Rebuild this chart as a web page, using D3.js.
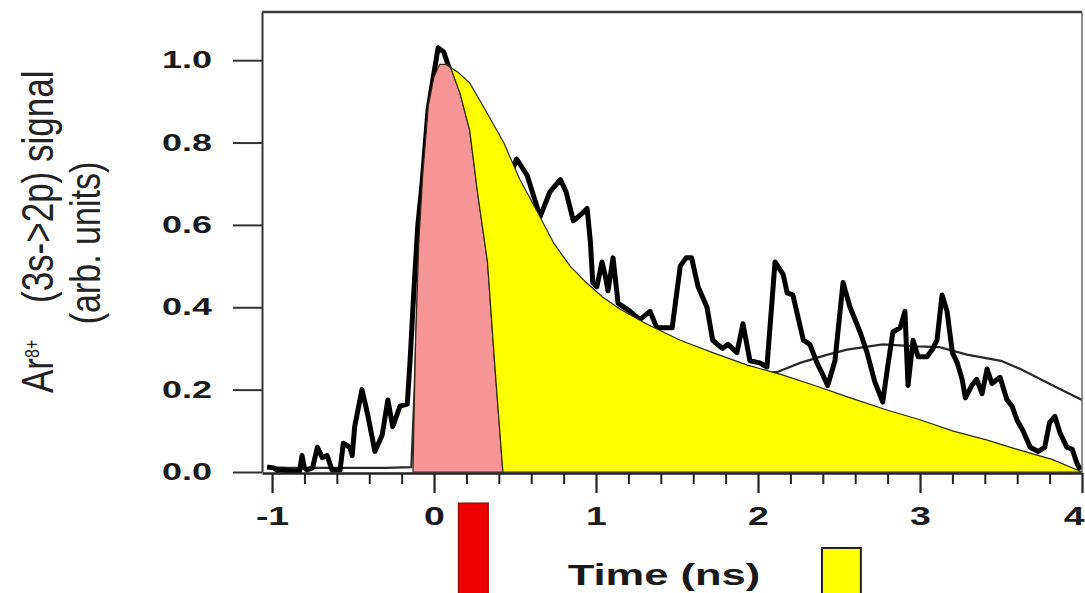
<!DOCTYPE html>
<html>
<head>
<meta charset="utf-8">
<script src="https://cdn.jsdelivr.net/npm/d3@7"></script>
<style>
  body { margin: 0; background: #fff; }
  text { font-family: "Liberation Sans", Arial, Helvetica, sans-serif; }
</style>
</head>
<body>
<svg id="chart" width="1085" height="593"></svg>
<script>
// Ar8+ (3s->2p) signal vs time, measured trace with model and shaded intervals

// measured signal (black trace)
var timeNs = [-1.03, -0.99, -0.97, -0.93, -0.87, -0.83, -0.815, -0.80, -0.785, -0.75,
	-0.72, -0.69, -0.66, -0.63, -0.58, -0.56, -0.52, -0.505, -0.49, -0.445,
	-0.41, -0.365, -0.32, -0.285, -0.255, -0.21, -0.165, -0.148, -0.123, -0.10,
	-0.074, -0.037, 0.0, 0.025, 0.06, 0.12, 0.2, 0.3, 0.4, 0.47,
	0.51, 0.575, 0.655, 0.715, 0.78, 0.815, 0.86, 0.92, 0.945, 0.965,
	0.98, 1.005, 1.037, 1.055, 1.074, 1.105, 1.136, 1.21, 1.27, 1.333,
	1.376, 1.47, 1.52, 1.556, 1.59, 1.63, 1.685, 1.72, 1.78, 1.815,
	1.87, 1.907, 1.95, 2.01, 2.055, 2.105, 2.155, 2.18, 2.215, 2.28,
	2.32, 2.364, 2.395, 2.43, 2.475, 2.525, 2.568, 2.63, 2.673, 2.72,
	2.77, 2.80, 2.833, 2.877, 2.907, 2.926, 2.957, 2.988, 3.043, 3.08,
	3.105, 3.136, 3.167, 3.20, 3.23, 3.26, 3.28, 3.32, 3.35, 3.383,
	3.414, 3.444, 3.494, 3.537, 3.568, 3.60, 3.636, 3.68, 3.73, 3.77,
	3.80, 3.833, 3.864, 3.907, 3.94, 3.97, 3.99]
var signal = [0.012, 0.01, 0.004, 0.004, 0.002, 0.002, 0.04, 0.01, 0.005, 0.01,
	0.06, 0.035, 0.04, 0.005, 0.005, 0.07, 0.06, 0.04, 0.11, 0.20,
	0.14, 0.05, 0.09, 0.175, 0.11, 0.16, 0.165, 0.27, 0.45, 0.60,
	0.70, 0.88, 0.97, 1.03, 1.02, 0.95, 0.90, 0.82, 0.76, 0.72,
	0.76, 0.72, 0.62, 0.68, 0.71, 0.68, 0.61, 0.63, 0.64, 0.56,
	0.46, 0.45, 0.51, 0.48, 0.44, 0.52, 0.41, 0.39, 0.37, 0.39,
	0.35, 0.35, 0.50, 0.52, 0.52, 0.45, 0.40, 0.32, 0.30, 0.31,
	0.29, 0.36, 0.27, 0.265, 0.255, 0.51, 0.48, 0.435, 0.43, 0.32,
	0.31, 0.265, 0.24, 0.21, 0.27, 0.46, 0.40, 0.34, 0.29, 0.22,
	0.17, 0.255, 0.34, 0.35, 0.39, 0.21, 0.32, 0.28, 0.28, 0.30,
	0.32, 0.43, 0.39, 0.29, 0.265, 0.225, 0.18, 0.21, 0.225, 0.19,
	0.25, 0.215, 0.23, 0.175, 0.16, 0.125, 0.10, 0.06, 0.05, 0.06,
	0.12, 0.135, 0.095, 0.06, 0.055, 0.02, 0.005]

// model curve (thin grey line)
var modelT = [-1.03, -0.9, -0.6, -0.3, -0.14, -0.12, -0.1, -0.07, -0.035, 0.0,
	0.04, 0.07, 0.2, 0.4, 0.6, 0.8, 1.0, 1.3, 1.6, 1.9,
	2.05, 2.12, 2.26, 2.43, 2.55, 2.77, 2.98, 3.12, 3.29, 3.5,
	3.62, 3.82, 4.0]
var modelV = [0.012, 0.01, 0.01, 0.01, 0.012, 0.2, 0.45, 0.7, 0.88, 0.95,
	0.985, 0.985, 0.93, 0.8, 0.64, 0.5, 0.42, 0.35, 0.3, 0.255,
	0.24, 0.243, 0.265, 0.285, 0.297, 0.31, 0.305, 0.303, 0.285, 0.27,
	0.25, 0.21, 0.175]

// pink area: rising edge, then the split line down to the axis
var riseT = [-0.13, -0.115, -0.095, -0.07, -0.035, 0.0, 0.035]
var riseV = [0, 0.30, 0.55, 0.72, 0.89, 0.96, 0.99]
var splitT = [0.07, 0.10, 0.16, 0.22, 0.27, 0.33, 0.375, 0.425]
var splitV = [0.99, 0.985, 0.92, 0.83, 0.675, 0.51, 0.26, 0]

// yellow area top edge
var decayT = [0.07, 0.15, 0.22, 0.33, 0.43, 0.53, 0.64, 0.74, 0.84, 0.94,
	1.04, 1.15, 1.31, 1.52, 1.72, 1.93, 2.14, 2.35, 2.57, 2.8,
	3.0, 3.2, 3.41, 3.6, 3.82, 4.0]
var decayV = [0.99, 0.97, 0.945, 0.87, 0.80, 0.71, 0.63, 0.555, 0.50, 0.46,
	0.425, 0.395, 0.36, 0.32, 0.29, 0.26, 0.237, 0.21, 0.18, 0.15,
	0.127, 0.10, 0.078, 0.055, 0.03, 0.0]

// legend swatches (time span under the axis)
var redSwatch = [0.15, 0.335]
var yellowSwatch = [2.395, 2.635]

var xTicks = [-1, 0, 1, 2, 3, 4]
var xMinor = d3.range(-0.8, 4, 0.2).filter(function(d) { return Math.abs(d - Math.round(d)) > 0.01 })
var yTicks = [0, 0.2, 0.4, 0.6, 0.8, 1.0]

var svg = d3.select('#chart')

var x = d3.scaleLinear().domain([-1.062, 4]).range([262, 1082])
var y = d3.scaleLinear().domain([0, 1.117]).range([472, 12])

function pts(ts, vs) {
	return ts.map(function(t, i) { return [x(t), y(vs[i])] })
}

var line = d3.line()

// model and measured traces sit under the fills
svg.append('path')
	.attr('d', line(pts(modelT, modelV)))
	.attr('fill', 'none').attr('stroke', '#2a2a2a').attr('stroke-width', 2.2)

svg.append('path')
	.attr('d', line(pts(timeNs, signal)))
	.attr('fill', 'none').attr('stroke', '#000').attr('stroke-width', 5)
	.attr('stroke-linejoin', 'round')

// pink area
var pinkPts = pts(riseT, riseV).concat(pts(splitT, splitV))
svg.append('path')
	.attr('d', line(pinkPts) + 'Z')
	.attr('fill', '#f69595').attr('stroke', '#3a2414').attr('stroke-width', 1.2)

// yellow area
var yellowPts = pts(splitT.slice().reverse(), splitV.slice().reverse()).concat(pts(decayT, decayV))
svg.append('path')
	.attr('d', line(yellowPts) + 'Z')
	.attr('fill', '#ffff00').attr('stroke', '#2a2a10').attr('stroke-width', 1.2)

// frame
svg.append('line')
	.attr('x1', x.range()[0]).attr('x2', x.range()[1])
	.attr('y1', y.range()[1]).attr('y2', y.range()[1])
	.attr('stroke', '#3a3a3a').attr('stroke-width', 2.5)
svg.append('line')
	.attr('x1', x.range()[1]).attr('x2', x.range()[1])
	.attr('y1', y.range()[1]).attr('y2', y.range()[0])
	.attr('stroke', '#666').attr('stroke-width', 1.5)

// axes
var gx = svg.append('g').attr('transform', 'translate(0,' + (y.range()[0] + 1) + ')')
gx.call(d3.axisBottom(x).tickValues(xMinor).tickSize(11).tickSizeOuter(0).tickFormat(''))
gx.select('.domain').remove()
gx.selectAll('line').attr('stroke', '#222').attr('stroke-width', 2)

var gx2 = svg.append('g').attr('transform', 'translate(0,' + (y.range()[0] + 1) + ')')
gx2.call(d3.axisBottom(x).tickValues(xTicks).tickSize(20).tickSizeOuter(0).tickPadding(14)
	.tickFormat(function(d) { return String(d) }))
gx2.select('.domain').attr('stroke', '#222').attr('stroke-width', 2.5)
gx2.selectAll('line').attr('stroke', '#222').attr('stroke-width', 2.2)
gx2.selectAll('text')
	.attr('font-size', 25).attr('font-weight', 'bold').attr('fill', '#1a1a1a')
	.attr('transform', 'scale(1.5,1)')
// last label sits against the right edge of the picture
gx2.selectAll('text').filter(function(d) { return d === xTicks[xTicks.length - 1] })
	.attr('text-anchor', 'end')
	.attr('transform', 'translate(2,0) scale(1.5,1)')

var gy = svg.append('g').attr('transform', 'translate(' + x.range()[0] + ',0)')
gy.call(d3.axisLeft(y).tickValues(yTicks).tickSize(29).tickSizeOuter(0)
	.tickFormat(d3.format('.1f')))
gy.select('.domain').attr('stroke', '#333').attr('stroke-width', 2)
gy.selectAll('line').attr('stroke', '#333').attr('stroke-width', 2)
gy.selectAll('text')
	.attr('x', null)
	.attr('font-size', 24).attr('font-weight', 'bold').attr('fill', '#1a1a1a')
	.attr('transform', 'translate(-50,0) scale(1.5,1)')

// axis titles
svg.append('text')
	.attr('text-anchor', 'middle')
	.attr('transform', 'translate(664,585) scale(1.45,1)')
	.attr('font-size', 30).attr('font-weight', 'bold').attr('fill', '#1a1a1a')
	.text('Time (ns)')

var ar = svg.append('text')
	.attr('transform', 'translate(53,393) rotate(-90) scale(1,1.25)')
	.attr('font-size', 35).attr('fill', '#222')
ar.append('tspan').text('Ar')
ar.append('tspan').attr('font-size', 16).attr('dy', -11).text('8+')

svg.append('text')
	.attr('transform', 'translate(53,303) rotate(-90) scale(1,1.25)')
	.attr('font-size', 35).attr('fill', '#222')
	.text('(3s->2p) signal')

svg.append('text')
	.attr('text-anchor', 'middle')
	.attr('transform', 'translate(100,243) rotate(-90) scale(1,1.25)')
	.attr('font-size', 34).attr('fill', '#222')
	.text('(arb. units)')

// colour swatches below the axis
svg.append('rect')
	.attr('x', x(redSwatch[0])).attr('width', x(redSwatch[1]) - x(redSwatch[0]))
	.attr('y', 503).attr('height', 100)
	.attr('fill', '#ee0000').attr('stroke', '#8a0000').attr('stroke-width', 1)

svg.append('rect')
	.attr('x', x(yellowSwatch[0])).attr('width', x(yellowSwatch[1]) - x(yellowSwatch[0]))
	.attr('y', 548).attr('height', 60)
	.attr('fill', '#ffff00').attr('stroke', '#222').attr('stroke-width', 2)
</script>
</body>
</html>
